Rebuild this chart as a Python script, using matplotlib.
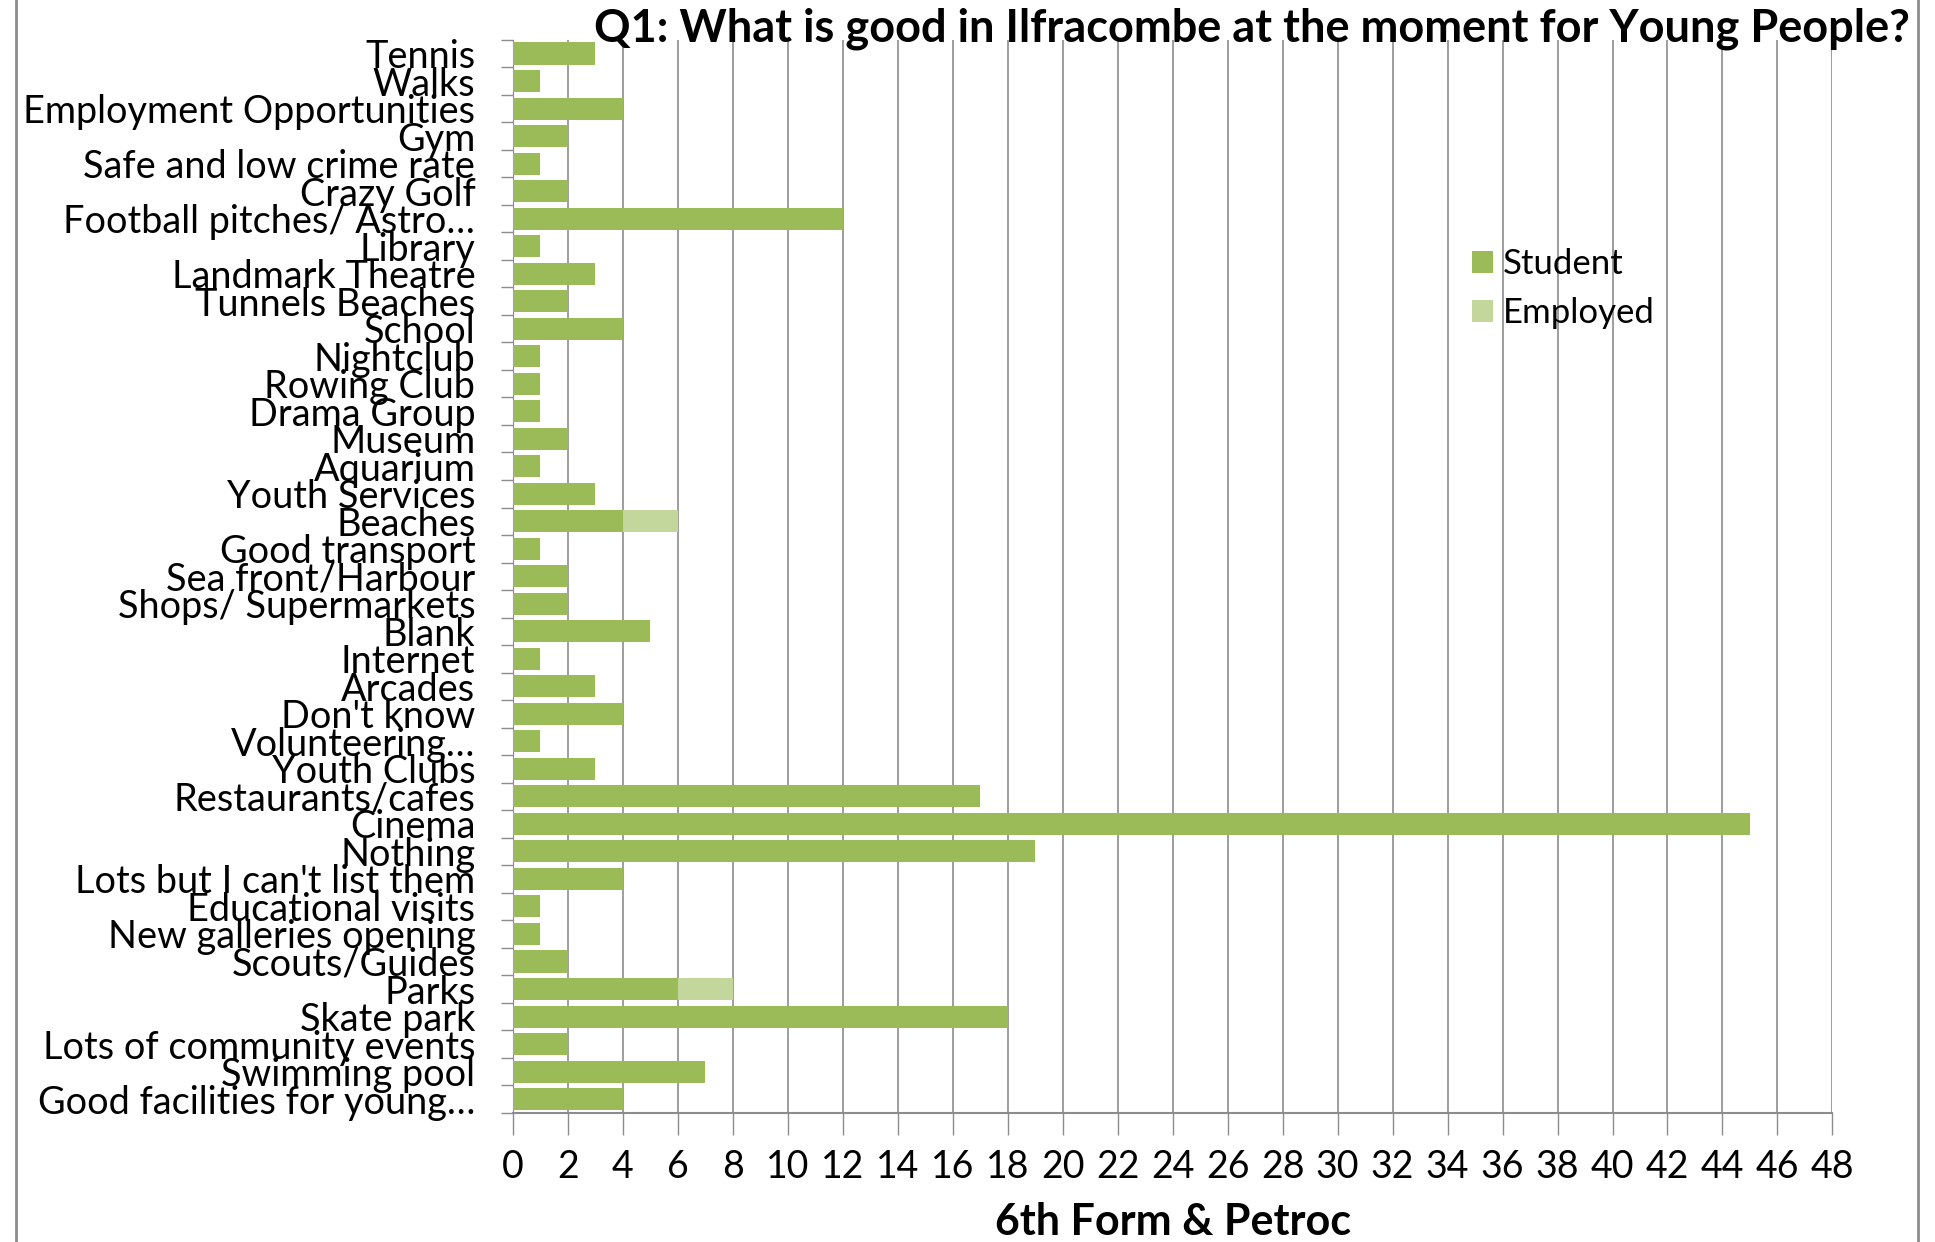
import numpy as np
import matplotlib
matplotlib.use("Agg")
import matplotlib.pyplot as plt
from matplotlib.patches import Rectangle

plt.rcParams['font.family'] = ['Lato', 'DejaVu Sans']

# categories, top to bottom as in the chart
categories = [
    "Tennis", "Walks", "Employment Opportunities", "Gym", "Safe and low crime rate",
    "Crazy Golf", "Football pitches/ Astro…", "Library", "Landmark Theatre",
    "Tunnels Beaches", "School", "Nightclub", "Rowing Club", "Drama Group", "Museum",
    "Aquarium", "Youth Services", "Beaches", "Good transport", "Sea front/Harbour",
    "Shops/ Supermarkets", "Blank", "Internet", "Arcades", "Don't know",
    "Volunteering…", "Youth Clubs", "Restaurants/cafes", "Cinema", "Nothing",
    "Lots but I can't list them", "Educational visits", "New galleries opening",
    "Scouts/Guides", "Parks", "Skate park", "Lots of community events",
    "Swimming pool", "Good facilities for young…",
]
student = [3, 1, 4, 2, 1, 2, 12, 1, 3, 2, 4, 1, 1, 1, 2, 1, 3, 4, 1, 2,
           2, 5, 1, 3, 4, 1, 3, 17, 45, 19, 4, 1, 1, 2, 6, 18, 2, 7, 4]
employed = [0, 0, 0, 0, 0, 0, 0, 0, 0, 0, 0, 0, 0, 0, 0, 0, 0, 2, 0, 0,
            0, 0, 0, 0, 0, 0, 0, 0, 0, 0, 0, 0, 0, 0, 2, 0, 0, 0, 0]
xticks = list(range(0, 50, 2))

c_student = "#9BBB59"
c_employed = "#C3D69B"
grid_col = "#8C8C8C"

fig = plt.figure(figsize=(19.35, 12.42), dpi=100)
ax = fig.add_axes([0.265, 0.104, 0.682, 0.864])

n = len(categories)
y = np.arange(n)
ax.barh(y, student, height=0.8, color=c_student, label="Student", zorder=3)
ax.barh(y, employed, left=student, height=0.8, color=c_employed, label="Employed", zorder=3)

ax.set_ylim(n - 0.5, -0.5)
ax.set_xlim(0, 48)
ax.set_xticks(xticks)
ax.set_xticklabels([str(t) for t in xticks], fontsize=27)
ax.tick_params(axis='x', length=16, width=1, color=grid_col, pad=10)

ax.set_yticks(y)
ax.set_yticklabels(categories, fontsize=27.3)
ax.tick_params(axis='y', length=0, pad=27)
ax.set_yticks(np.arange(-0.5, n, 1), minor=True)
ax.tick_params(axis='y', which='minor', length=9, width=1, color=grid_col)

ax.grid(axis='x', color=grid_col, linewidth=1.2, zorder=0)
for side in ['top', 'right']:
    ax.spines[side].set_visible(False)
ax.spines['left'].set_color(grid_col)
ax.spines['bottom'].set_color(grid_col)
ax.spines['bottom'].set_linewidth(1.5)

ax.set_xlabel("6th Form & Petroc", fontsize=31, fontweight='bold', labelpad=12)

fig.text(0.647, 0.977, "Q1: What is good in Ilfracombe at the moment for Young People?",
         fontsize=32.5, fontweight='bold', ha='center', va='center')

ax.legend(loc='upper left', bbox_to_anchor=(0.703, 0.835), frameon=False,
          fontsize=25, handlelength=0.6, handleheight=0.6, handletextpad=0.3,
          labelspacing=0.5)

# chart border
fig.patches.append(Rectangle((16 / 1935, -0.05), 1902 / 1935, 1.1, transform=fig.transFigure,
                             fill=False, edgecolor="#8C8C8C", linewidth=2))

fig.savefig("out.png", dpi=100)
